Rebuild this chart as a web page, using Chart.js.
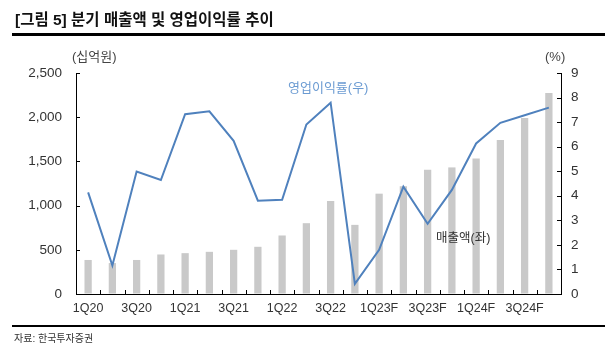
<!DOCTYPE html>
<html lang="ko">
<head>
<meta charset="utf-8">
<script src="https://cdn.jsdelivr.net/npm/chart.js@4.4.1/dist/chart.umd.min.js"></script>
<style>
  body { margin: 0; background: #fff; }
  #wrap { position: relative; width: 615px; height: 354px; font-family: 'Liberation Sans', Arial, 'Noto Sans CJK KR', sans-serif; color: #333; }
  #wrap canvas { position: absolute; left: 0; top: 0; }
  .txt { position: absolute; white-space: nowrap; line-height: 1; }
  .rule { position: absolute; background: #000; }
</style>
</head>
<body>
<div id="wrap">
  <canvas id="c" width="615" height="354"></canvas>
  <div class="txt" style="left:15px; top:12px; font-size:15.5px; font-weight:bold; color:#111;">[그림 5] 분기 매출액 및 영업이익률 추이</div>
  <div class="rule" style="left:12px; top:33px; width:593px; height:3px;"></div>
  <div class="txt" style="left:72px; top:50px; font-size:13px; color:#444;">(십억원)</div>
  <div class="txt" style="left:545px; top:50px; font-size:13px; color:#444;">(%)</div>
  <div class="txt" style="left:288px; top:81px; font-size:13px; color:#6b9bd2;">영업이익률(우)</div>
  <div class="txt" style="left:436px; top:232px; font-size:12.5px; color:#333;">매출액(좌)</div>
  <div class="rule" style="left:12px; top:325px; width:593px; height:2px;"></div>
  <div class="txt" style="left:14px; top:334px; font-size:10px; color:#333;">자료: 한국투자증권</div>
</div>
<script>
const quarters = ['1Q20', '2Q20', '3Q20', '4Q20', '1Q21', '2Q21', '3Q21', '4Q21',
  '1Q22', '2Q22', '3Q22', '4Q22', '1Q23F', '2Q23F', '3Q23F', '4Q23F',
  '1Q24F', '2Q24F', '3Q24F', '4Q24F']
// 매출액 (십억원)
const revenue = [385, 350, 385, 447, 462, 477, 500, 534, 662, 801,
  1053, 782, 1135, 1220, 1406, 1432, 1534, 1741, 1992, 2274]
// 영업이익률 (%)
const opMargin = [4.14, 1.16, 4.99, 4.64, 7.32, 7.44, 6.24, 3.80, 3.84, 6.90,
  7.79, 0.41, 1.80, 4.37, 2.86, 4.24, 6.13, 6.97, 7.28, 7.59]

const leftMax = 2500
const rightMax = 9

const fontFamily = "'Liberation Sans', Arial, 'Noto Sans CJK KR', sans-serif"

// short tick marks pointing into the plot, as in the original
const innerTicks = {
  id: 'innerTicks',
  afterDraw(chart) {
    const { ctx, chartArea: a, scales } = chart
    const len = 4
    ctx.save()
    ctx.strokeStyle = '#000'
    ctx.lineWidth = 1
    ctx.beginPath()
    const x = scales.x
    const half = (x.getPixelForValue(1) - x.getPixelForValue(0)) / 2
    for (let i = 1; i < quarters.length; i++) {
      const px = Math.round(x.getPixelForValue(i) - half) + 0.5
      ctx.moveTo(px, a.bottom)
      ctx.lineTo(px, a.bottom - len)
    }
    scales.y.ticks.forEach(t => {
      const py = Math.round(scales.y.getPixelForValue(t.value)) + 0.5
      ctx.moveTo(a.left, py)
      ctx.lineTo(a.left + len, py)
    })
    scales.y1.ticks.forEach(t => {
      const py = Math.round(scales.y1.getPixelForValue(t.value)) + 0.5
      ctx.moveTo(a.right, py)
      ctx.lineTo(a.right - len, py)
    })
    ctx.stroke()
    ctx.restore()
  }
}

new Chart(document.getElementById('c'), {
  data: {
    labels: quarters,
    datasets: [
      {
        type: 'line',
        label: '영업이익률(우)',
        data: opMargin,
        yAxisID: 'y1',
        borderColor: 'rgb(79,129,189)',
        borderWidth: 2,
        pointRadius: 0,
        tension: 0,
        order: 0
      },
      {
        type: 'bar',
        label: '매출액(좌)',
        data: revenue,
        yAxisID: 'y',
        backgroundColor: '#c9c9c9',
        barPercentage: 0.3,
        categoryPercentage: 1,
        order: 1
      }
    ]
  },
  options: {
    responsive: false,
    animation: false,
    layout: { padding: { top: 73, bottom: 38, left: 0, right: 0 } },
    plugins: {
      legend: { display: false },
      tooltip: { enabled: false }
    },
    scales: {
      x: {
        offset: true,
        grid: { display: true, drawOnChartArea: false, drawTicks: false },
        border: { color: '#000', width: 1 },
        ticks: {
          autoSkip: false,
          maxRotation: 0,
          padding: 7,
          color: '#333',
          font: { family: fontFamily, size: 12.5 },
          callback: (v, i) => i % 2 === 0 ? quarters[i] : ''
        },
        afterFit: s => { s.height = 22 }
      },
      y: {
        position: 'left',
        min: 0,
        max: leftMax,
        grid: { display: true, drawOnChartArea: false, drawTicks: false },
        border: { color: '#000', width: 1 },
        ticks: {
          stepSize: 500,
          padding: 14,
          color: '#333',
          font: { family: fontFamily, size: 13.5 },
          callback: v => v.toLocaleString('en-US')
        },
        afterFit: s => { s.width = 76 }
      },
      y1: {
        position: 'right',
        min: 0,
        max: rightMax,
        grid: { display: true, drawOnChartArea: false, drawTicks: false },
        border: { color: '#000', width: 1 },
        ticks: {
          stepSize: 1,
          padding: 10,
          color: '#333',
          font: { family: fontFamily, size: 13.5 }
        },
        afterFit: s => { s.width = 54 }
      }
    }
  },
  plugins: [innerTicks]
})
</script>
</body>
</html>
